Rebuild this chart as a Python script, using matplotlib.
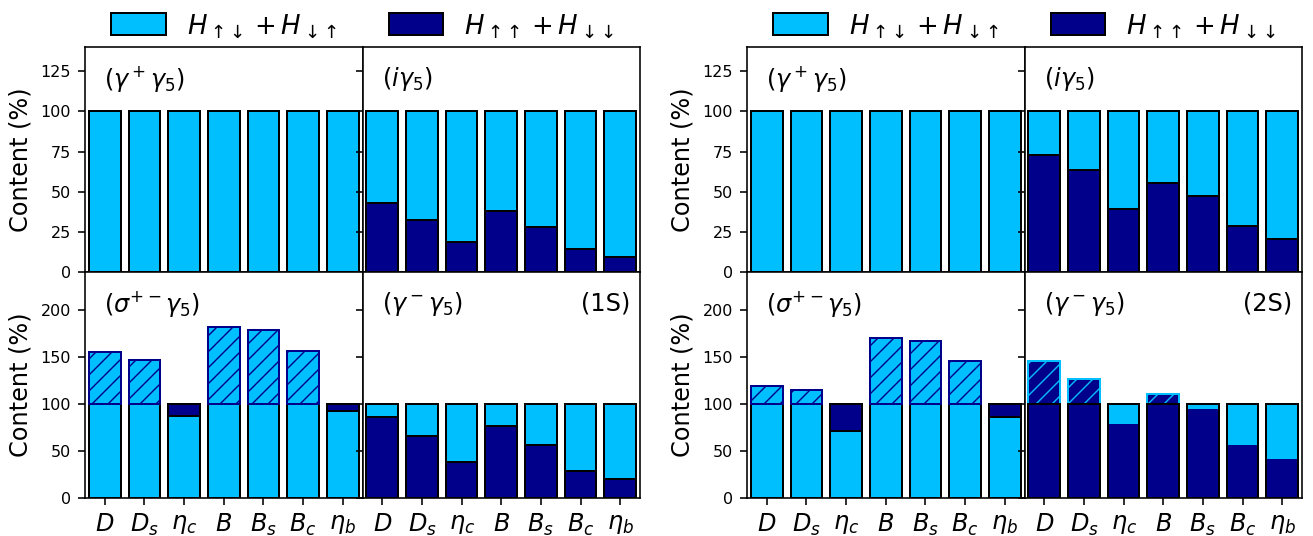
import numpy as np
import matplotlib
matplotlib.use('Agg')
import matplotlib.pyplot as plt
from matplotlib.patches import Patch

plt.rcParams['hatch.linewidth'] = 0.7

# colours of the two spin components
light = '#00BFFF'
dark = '#00008B'

mesons = [r'$D$', r'$D_s$', r'$\eta_c$', r'$B$', r'$B_s$', r'$B_c$', r'$\eta_b$']

# 1S, content in %
gp_1s = [100, 100, 100, 100, 100, 100, 100]            # H_ud + H_du
ig5_1s = [42.9, 32.6, 18.9, 38.2, 28.0, 14.3, 9.8]      # H_uu + H_dd
spm_1s = [155.6, 146.7, 86.7, 181.9, 178.7, 156.7, 92.7]  # H_ud + H_du
gm_1s = [86.3, 65.7, 37.7, 76.7, 56.5, 28.8, 19.9]      # H_uu + H_dd

# 2S, content in %
gp_2s = [100, 100, 100, 100, 100, 100, 100]
ig5_2s = [72.8, 63.3, 39.6, 55.4, 47.5, 28.6, 20.5]
spm_2s = [119.0, 114.4, 71.4, 170.2, 167.0, 145.6, 85.6]
gm_2s = [146.0, 126.8, 79.9, 110.8, 95.2, 57.5, 41.9]

x = np.arange(len(mesons))
lw = 1.0


def draw_panel(ax, vals, base, other, base_edge='black'):
    vals = np.array(vals, dtype=float)
    # full 100% bar in the other colour, base component on top of it
    ax.bar(x, 100, width=0.8, color=other, edgecolor='black', linewidth=lw)
    ax.bar(x, np.minimum(vals, 100), width=0.8, color=base,
           edgecolor=base_edge, linewidth=lw)
    # part above 100% is hatched
    ex = vals - 100
    m = ex > 0
    if m.any():
        ax.bar(x[m], ex[m], bottom=100, width=0.8, color=base,
               edgecolor=other, hatch='///', linewidth=lw)
    if base_edge != 'black':
        ax.bar(x, 100, width=0.8, fill=False, edgecolor='black', linewidth=lw)


fig = plt.figure(figsize=(1313 / 144, 536 / 144), dpi=144)

W = 1313.0
H = 536.0
group_left = [85.0, 747.0]
pw = 277.5
row_top = [47.0, 272.3]
row_h = [225.3, 225.4]

groups = [
    (gp_1s, ig5_1s, spm_1s, gm_1s, '(1S)'),
    (gp_2s, ig5_2s, spm_2s, gm_2s, '(2S)'),
]

for g, (gp, ig5, spm, gm, tag) in enumerate(groups):
    axes = {}
    for r in range(2):
        for c in range(2):
            left = (group_left[g] + c * pw) / W
            bottom = 1 - (row_top[r] + row_h[r]) / H
            axes[(r, c)] = fig.add_axes([left, bottom, pw / W, row_h[r] / H])

    draw_panel(axes[(0, 0)], gp, light, dark)
    draw_panel(axes[(0, 1)], ig5, dark, light)
    draw_panel(axes[(1, 0)], spm, light, dark)
    if g == 0:
        draw_panel(axes[(1, 1)], gm, dark, light)
    else:
        draw_panel(axes[(1, 1)], gm, dark, light, base_edge=light)

    labels = {(0, 0): r'$(\gamma^+\gamma_5)$', (0, 1): r'$(i\gamma_5)$',
              (1, 0): r'$(\sigma^{+-}\gamma_5)$', (1, 1): r'$(\gamma^-\gamma_5)$'}

    for (r, c), ax in axes.items():
        ax.set_xlim(-0.5, 6.5)
        if r == 0:
            ax.set_ylim(0, 140)
            ax.set_yticks([0, 25, 50, 75, 100, 125])
            ax.tick_params(axis='x', bottom=False, labelbottom=False)
        else:
            ax.set_ylim(0, 240)
            ax.set_yticks([0, 50, 100, 150, 200])
            ax.set_xticks(x)
            ax.set_xticklabels(mesons, fontsize=12)
        ax.tick_params(axis='y', labelsize=8)
        if c == 0:
            ax.set_ylabel('Content (%)', fontsize=12)
        else:
            ax.tick_params(axis='y', labelleft=False)
        ax.text(0.07, 0.86, labels[(r, c)], transform=ax.transAxes,
                fontsize=12, ha='left', va='center')

    axes[(1, 1)].text(0.965, 0.86, tag, transform=axes[(1, 1)].transAxes,
                      fontsize=12, ha='right', va='center')

    handles = [Patch(facecolor=light, edgecolor='black'),
               Patch(facecolor=dark, edgecolor='black')]
    axes[(0, 0)].legend(handles,
                        [r'$H_{\uparrow\!\downarrow}+H_{\downarrow\!\uparrow}$',
                         r'$H_{\uparrow\!\uparrow}+H_{\downarrow\!\downarrow}$'],
                        loc='center', bbox_to_anchor=(1.0, 1.095), ncol=2,
                        frameon=False, fontsize=13, borderaxespad=0,
                        handleheight=0.9, handlelength=2.1)

fig.savefig('out.png', dpi=144)
